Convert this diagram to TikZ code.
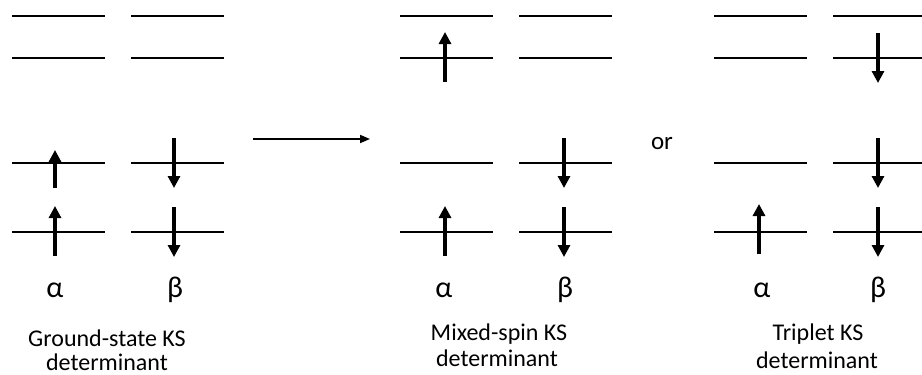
\documentclass[tikz,border=0pt]{standalone}
\usepackage{fontspec}
\setmainfont{Carlito}
\usetikzlibrary{arrows.meta}
\tikzset{
  levelline/.style={line width=1.8pt},
  spin/.style={line width=3.6pt, -{Triangle[length=12pt,width=12pt]}},
  react/.style={line width=1.8pt, -{Triangle[length=10pt,width=8pt]}},
  caption/.style={font=\fontsize{24}{24}\selectfont, inner sep=0pt, anchor=base},
  greek/.style={font=\fontsize{30}{30}\selectfont, inner sep=0pt, anchor=base}
}
% orbitals of one determinant: #1 = left edge of the alpha column
\newcommand\orbitals[1]{%
  \foreach \col in {0,119}{
    \foreach \ly in {16,58,163,232}{
      \draw[levelline] (#1+\col,\ly) -- ++(93,0);
    }
  }
}
% spin arrows crossing a level at height #2, column x #1
\newcommand\spinup[2]{\draw[spin] (#1,#2+24) -- (#1,#2-26);}
\newcommand\spindown[2]{\draw[spin] (#1,#2-25) -- (#1,#2+25);}
\begin{document}
\begin{tikzpicture}[x=1pt,y=-1pt]
\useasboundingbox (0,0) rectangle (922,375);

% ground state
\orbitals{12}
\draw[spin] (55,188) -- (55,150);
\spinup{55}{232}
\spindown{174}{163}
\spindown{174}{232}
\node[greek] (ga) at (55,297) {α};
\node[greek] (gb) at (175,297) {β};
\node[caption] (gcap1) at (107,346) {Ground-state KS};
\node[caption] (gcap2) at (107,370) {determinant};

% excitation arrow
\coordinate (rs) at (253,139);
\coordinate (re) at (370,139);
\draw[react] (rs) -- (re);

% mixed-spin
\orbitals{400}
\spinup{445}{58}
\spinup{445}{232}
\spindown{564}{163}
\spindown{564}{232}
\node[greek] (ma) at (444,297) {α};
\node[greek] (mb) at (565,297) {β};
\node[caption] (mcap1) at (499,340) {Mixed-spin KS};
\node[caption] (mcap2) at (497,366) {determinant};

\node[caption, font=\fontsize{25}{25}\selectfont] (or) at (662,149) {or};

% triplet
\orbitals{714}
\spindown{878}{58}
\spindown{878}{163}
\spindown{878}{232}
\spinup{759}{230}
\node[greek] (ta) at (762,297) {α};
\node[greek] (tb) at (878,297) {β};
\node[caption] (tcap1) at (818,340) {Triplet KS};
\node[caption] (tcap2) at (817,368) {determinant};
\end{tikzpicture}
\end{document}
